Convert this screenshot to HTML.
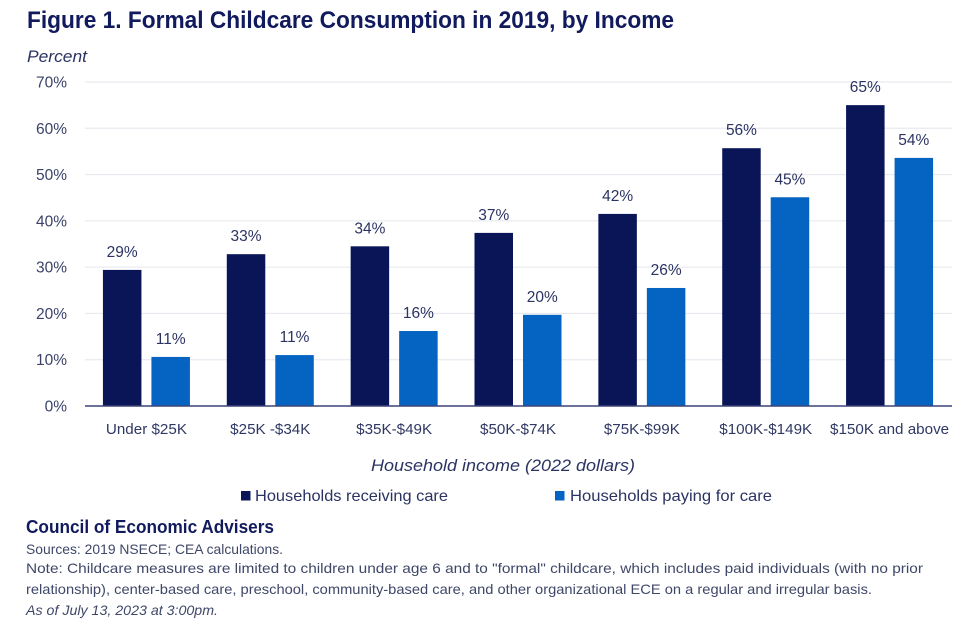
<!DOCTYPE html>
<html lang="en">
<head>
<meta charset="utf-8">
<title>Figure 1. Formal Childcare Consumption in 2019, by Income</title>
<style>
html,body{margin:0;padding:0;background:#fff;}
svg{display:block;font-family:"Liberation Sans",sans-serif;filter:blur(0.3px);}
</style>
</head>
<body>
<svg id="chart" xmlns="http://www.w3.org/2000/svg" width="975" height="632" viewBox="0 0 975 632">
  <rect x="0" y="0" width="975" height="632" fill="#ffffff"/>
  <text x="27" y="28" font-size="24" font-weight="bold" fill="#101a5c" textLength="647" lengthAdjust="spacingAndGlyphs">Figure 1. Formal Childcare Consumption in 2019, by Income</text>
  <text x="27" y="62" font-size="17" font-style="italic" fill="#2a3362" textLength="60" lengthAdjust="spacingAndGlyphs">Percent</text>
  <g id="grid"></g>
  <g id="yticks"></g>
  <g id="bars"></g>
  <g id="values"></g>
  <g id="xticks"></g>
  <line x1="85" y1="406" x2="952" y2="406" stroke="#3c4478" stroke-width="1.5"/>
  <text x="371" y="471" font-size="17" font-style="italic" fill="#2a3362" textLength="264" lengthAdjust="spacingAndGlyphs">Household income (2022 dollars)</text>
  <g>
    <rect x="241" y="491" width="9.5" height="9.5" fill="#0a1558"/>
    <text x="255" y="501" font-size="16" fill="#2a3362" textLength="193" lengthAdjust="spacingAndGlyphs">Households receiving care</text>
    <rect x="555" y="491" width="9.5" height="9.5" fill="#0563c1"/>
    <text x="570" y="501" font-size="16" fill="#2a3362" textLength="202" lengthAdjust="spacingAndGlyphs">Households paying for care</text>
  </g>
  <g>
    <text x="26" y="533" font-size="18" font-weight="bold" fill="#101a5c" textLength="248" lengthAdjust="spacingAndGlyphs">Council of Economic Advisers</text>
    <text x="26" y="554" font-size="14" fill="#3f4768" textLength="257" lengthAdjust="spacingAndGlyphs">Sources: 2019 NSECE; CEA calculations.</text>
    <text x="26" y="573" font-size="14" fill="#3f4768" textLength="897" lengthAdjust="spacingAndGlyphs">Note: Childcare measures are limited to children under age 6 and to "formal" childcare, which includes paid individuals (with no prior</text>
    <text x="26" y="594" font-size="14" fill="#3f4768" textLength="846" lengthAdjust="spacingAndGlyphs">relationship), center-based care, preschool, community-based care, and other organizational ECE on a regular and irregular basis.</text>
    <text x="26" y="615" font-size="14" font-style="italic" fill="#3f4768" textLength="192" lengthAdjust="spacingAndGlyphs">As of July 13, 2023 at 3:00pm.</text>
  </g>
</svg>
<script>
const categories = ["Under $25K", "$25K -$34K", "$35K-$49K", "$50K-$74K", "$75K-$99K", "$100K-$149K", "$150K and above"];
const receivingValues = [29.4, 32.8, 34.5, 37.4, 41.5, 55.7, 65.0];
const payingValues = [10.6, 11.0, 16.2, 19.7, 25.5, 45.1, 53.6];
const receivingLabels = ["29%", "33%", "34%", "37%", "42%", "56%", "65%"];
const payingLabels = ["11%", "11%", "16%", "20%", "26%", "45%", "54%"];
const yTickValues = [0, 10, 20, 30, 40, 50, 60, 70];
const yTickLabels = ["0%", "10%", "20%", "30%", "40%", "50%", "60%", "70%"];

const SVG_NS = "http://www.w3.org/2000/svg";
const plotLeft = 85, plotRight = 952, plotBottom = 406, plotTop = 82, yMax = 70;
const barWidth = 38.5, barGap = 10;

function yScale(v) {
  return plotBottom - (v / yMax) * (plotBottom - plotTop);
}
function xBand(i) {
  return plotLeft + (i + 0.5) * (plotRight - plotLeft) / categories.length;
}
function make(tag, attrs, text) {
  const el = document.createElementNS(SVG_NS, tag);
  for (const k in attrs) el.setAttribute(k, attrs[k]);
  if (text !== undefined) el.textContent = text;
  return el;
}

const grid = document.getElementById("grid");
const yticks = document.getElementById("yticks");
const bars = document.getElementById("bars");
const values = document.getElementById("values");
const xticks = document.getElementById("xticks");

yTickValues.forEach(function (v, i) {
  if (v !== 0) {
    const line = make("line", {x1: plotLeft, x2: plotRight, y1: yScale(v), y2: yScale(v), stroke: "#e4e6ee", "stroke-width": 1});
    
    
    grid.appendChild(line);
  }
  const tick = make("text", {x: 67, y: yScale(v) + 5.5, "text-anchor": "end", "font-size": 15.5, fill: "#3a4268"}, yTickLabels[i]);
  
  
  yticks.appendChild(tick);
});

categories.forEach(function (c, i) {
  const cx = xBand(i) - 0.5;
  const darkX = cx - barGap / 2 - barWidth;
  const blueX = cx + barGap / 2;

  const darkBar = make("rect", {x: darkX, y: yScale(receivingValues[i]), width: barWidth, height: plotBottom - yScale(receivingValues[i]), fill: "#0a1558"});
  
  
  bars.appendChild(darkBar);

  const blueBar = make("rect", {x: blueX, y: yScale(payingValues[i]), width: barWidth, height: plotBottom - yScale(payingValues[i]), fill: "#0563c1"});
  
  
  bars.appendChild(blueBar);

  const darkLabel = make("text", {x: darkX + barWidth / 2, y: yScale(receivingValues[i]) - 13, "text-anchor": "middle", "font-size": 15.5, fill: "#2a3362"}, receivingLabels[i]);
  
  
  values.appendChild(darkLabel);

  const blueLabel = make("text", {x: blueX + barWidth / 2, y: yScale(payingValues[i]) - 13, "text-anchor": "middle", "font-size": 15.5, fill: "#2a3362"}, payingLabels[i]);
  
  
  values.appendChild(blueLabel);

  const xLabel = make("text", {x: cx, y: 434, "text-anchor": "middle", "font-size": 15.2, fill: "#2f3863"}, c);
  
  
  xticks.appendChild(xLabel);
});
</script>
</body>
</html>
